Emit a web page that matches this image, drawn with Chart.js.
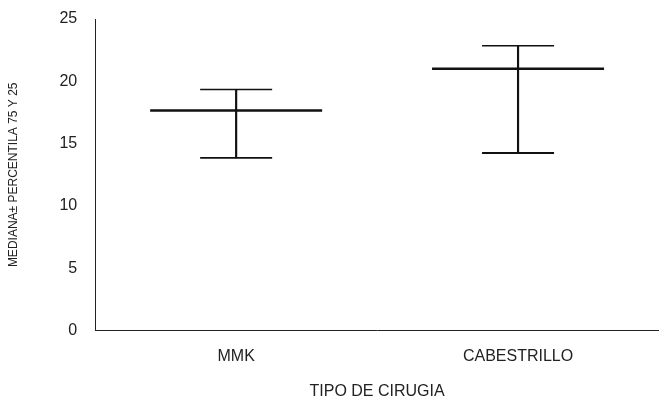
<!DOCTYPE html>
<html>
<head>
<meta charset="utf-8">
<script src="https://cdn.jsdelivr.net/npm/chart.js@4"></script>
<style>
html,body{margin:0;padding:0;background:#fff;}
#wrap{width:659px;height:397px;position:relative;}
</style>
</head>
<body>
<div id="wrap"><canvas id="c"></canvas></div>
<script>
const categories = ["MMK", "CABESTRILLO"];
const medians = [17.65, 21.0];
const p75 = [19.35, 22.85];
const p25 = [13.85, 14.25];
const yTicks = [0, 5, 10, 15, 20, 25];

const ranges = p25.map((l, i) => [l, p75[i]]);

new Chart(document.getElementById('c'), {
  data: {
    labels: categories,
    datasets: [
      { type: 'bar', data: ranges, backgroundColor: '#111', barThickness: 1.5, grouped: false, order: 3 },
      { type: 'line', data: medians, showLine: false, pointStyle: 'line', pointRadius: 86, pointHoverRadius: 86,
        borderColor: '#111', pointBorderWidth: 2.5, borderWidth: 2.5, order: 1, clip: false },
      { type: 'line', data: p75, showLine: false, pointStyle: 'line', pointRadius: 36, pointHoverRadius: 36,
        borderColor: '#111', pointBorderWidth: 1.5, borderWidth: 1.5, order: 2, clip: false },
      { type: 'line', data: p25, showLine: false, pointStyle: 'line', pointRadius: 36, pointHoverRadius: 36,
        borderColor: '#111', pointBorderWidth: 1.8, borderWidth: 1.8, order: 2, clip: false }
    ]
  },
  options: {
    responsive: true,
    maintainAspectRatio: false,
    animation: false,
    events: [],
    layout: { autoPadding: false, padding: { top: 19, right: 0, bottom: -4, left: 6 } },
    plugins: { legend: { display: false }, tooltip: { enabled: false } },
    scales: {
      x: {
        offset: true,
        grid: { display: false, drawTicks: false },
        border: { display: true, color: '#222', width: 1 },
        ticks: { color: '#222', font: { family: 'Liberation Sans, Arial', size: 16 }, padding: 16 },
        title: { display: true, text: 'TIPO DE CIRUGIA', color: '#222', font: { family: 'Liberation Sans, Arial', size: 16 }, padding: { top: 0, bottom: 0 } }
      },
      y: {
        min: 0, max: 25,
        afterBuildTicks: (axis) => { axis.ticks = yTicks.map(v => ({ value: v })); },
        afterFit: (axis) => { axis.paddingTop = 0; },
        grid: { display: false, drawTicks: false },
        border: { display: true, color: '#222', width: 1 },
        ticks: { color: '#222', font: { family: 'Liberation Sans, Arial', size: 16 }, padding: 18 },
        title: { display: true, text: 'MEDIANA± PERCENTILA 75 Y 25', color: '#222', font: { family: 'Liberation Sans, Arial', size: 12 }, padding: { top: 0, bottom: 21 } }
      }
    }
  }
});
</script>
</body>
</html>
